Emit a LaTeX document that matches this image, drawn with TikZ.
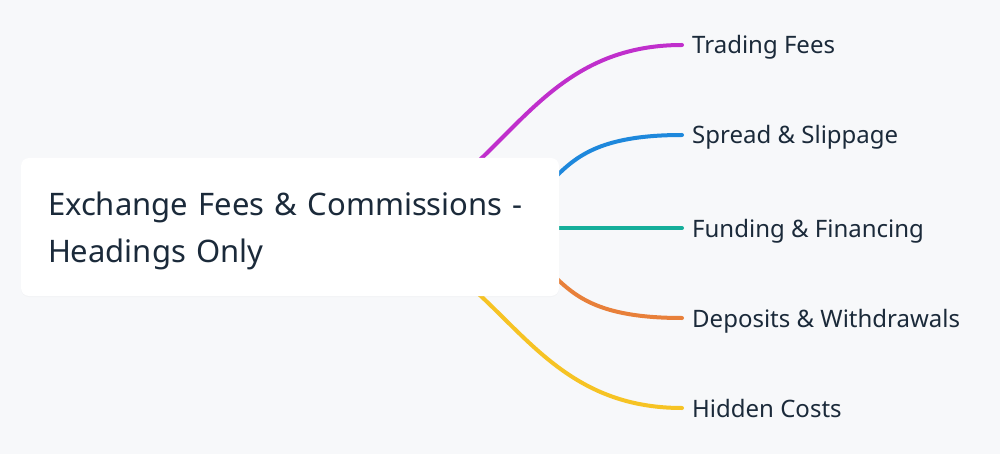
\documentclass[tikz,border=0pt]{standalone}
\usepackage{fontspec}
\setmainfont{Noto Sans}
\usepackage{xcolor}
\usetikzlibrary{positioning, shadows, backgrounds}

\definecolor{bgpaper}{HTML}{F7F8FA}
\definecolor{inkdark}{HTML}{1B2A3A}
\definecolor{brmagenta}{HTML}{C02FCC}
\definecolor{brblue}{HTML}{1E88DC}
\definecolor{brteal}{HTML}{15AE9A}
\definecolor{brorange}{HTML}{E8803A}
\definecolor{bryellow}{HTML}{F6C324}

\begin{document}
\begin{tikzpicture}[x=1pt, y=-1pt]

    % Define the styles for the map
    \tikzset{root/.style={rectangle, rounded corners=8pt, fill=white, text=inkdark,
                 minimum width=538pt, minimum height=138pt, inner xsep=27pt,
                 text width=484pt, align=left, font=\fontsize{31}{47}\selectfont,
                 drop shadow={opacity=0.04, shadow xshift=0pt, shadow yshift=-1pt}},
             leaf/.style={anchor=west, inner sep=0pt, text=inkdark, text height=18pt,
                 text depth=0pt, font=\fontsize{24}{28}\selectfont},
             branch/.style={draw=#1, line width=4pt, line cap=round}}

    \useasboundingbox (0,0) rectangle (1000,454);

    % Nodes
    \node[root] (exchange) at (290,227) {Exchange Fees \& Commissions -\\\smash{Headings Only}};
    \node[leaf] (trading) at (692,45) {Trading Fees};
    \node[leaf] (spread) at (692,135) {Spread \& Slippage};
    \node[leaf] (funding) at (692,228) {Funding \& Financing};
    \node[leaf] (deposits) at (692,318) {Deposits \& Withdrawals};
    \node[leaf] (hidden) at (692,408) {Hidden Costs};
    \coordinate (hubouter) at ([xshift=35pt,yshift=-1pt]exchange.center);
    \coordinate (hubinner) at ([xshift=130pt,yshift=-1pt]exchange.center);

    % Paths
    \begin{scope}[on background layer]
        \fill[bgpaper] (0,0) rectangle (1000,454);
        \path[branch=brmagenta] (hubouter) .. controls +(175,0) and +(-175,0) .. ([xshift=-10pt]trading.west);
        \path[branch=brblue] (hubinner) .. controls +(170,0) and +(-170,0) .. ([xshift=-10pt]spread.west);
        \path[branch=brteal] (hubinner) -- ([xshift=-10pt]funding.west);
        \path[branch=brorange] (hubinner) .. controls +(170,0) and +(-170,0) .. ([xshift=-10pt]deposits.west);
        \path[branch=bryellow] (hubouter) .. controls +(175,0) and +(-175,0) .. ([xshift=-10pt]hidden.west);
    \end{scope}
\end{tikzpicture}
\end{document}
